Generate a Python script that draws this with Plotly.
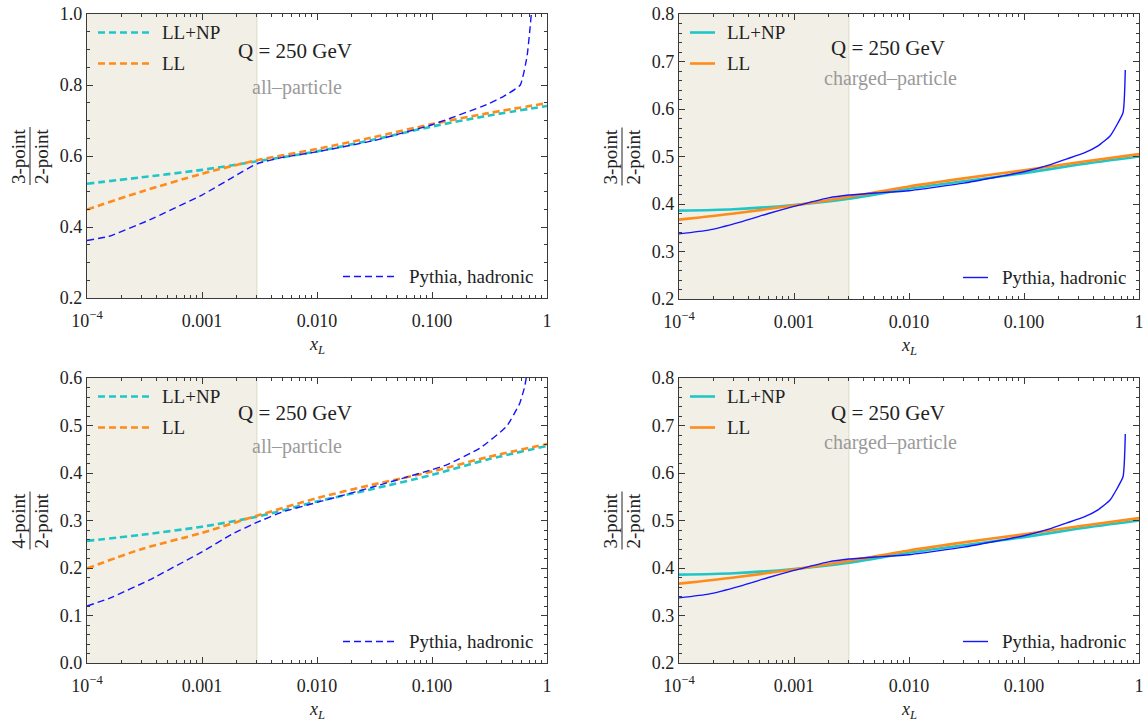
import math
import plotly.graph_objects as go

# ---------------------------------------------------------------- data
# theory curves are sampled on a common x_L grid
x_theory = [1e-4, 3e-4, 1e-3, 3e-3, 1e-2, 3e-2, 1e-1, 3e-1, 1.0]

# 3-point / 2-point, all particles
all3_llnp = [0.522, 0.540, 0.561, 0.585, 0.613, 0.645, 0.683, 0.713, 0.741]
all3_ll = [0.449, 0.500, 0.550, 0.588, 0.620, 0.652, 0.690, 0.720, 0.749]
all3_py_x = [1e-4, 1.56e-4, 3.5e-4, 1e-3, 1.85e-3, 3e-3, 5e-3, 1e-2, 3e-2, 1e-1,
             0.30, 0.42, 0.586, 0.67, 0.71, 0.73, 0.735]
all3_py = [0.362, 0.374, 0.420, 0.490, 0.540, 0.578, 0.596, 0.612, 0.642, 0.688,
           0.745, 0.768, 0.800, 0.880, 0.956, 1.000, 1.05]

# 3-point / 2-point, charged particles
chg3_llnp = [0.386, 0.389, 0.398, 0.411, 0.432, 0.448, 0.465, 0.483, 0.500]
chg3_ll = [0.367, 0.380, 0.397, 0.415, 0.437, 0.454, 0.471, 0.488, 0.505]
chg3_py_x = [1e-4, 1.8e-4, 3.4e-4, 6e-4, 1e-3, 2e-3, 3e-3, 5e-3, 1e-2, 3e-2,
             1e-1, 0.17, 0.236, 0.33, 0.444, 0.56, 0.726, 0.76]
chg3_py = [0.337, 0.345, 0.362, 0.380, 0.395, 0.413, 0.419, 0.423, 0.428, 0.444,
           0.468, 0.483, 0.495, 0.507, 0.523, 0.543, 0.592, 0.682]

# 4-point / 2-point, all particles
all4_llnp = [0.257, 0.270, 0.287, 0.308, 0.340, 0.366, 0.396, 0.428, 0.457]
all4_ll = [0.199, 0.240, 0.274, 0.310, 0.347, 0.375, 0.403, 0.433, 0.461]
all4_py_x = [1e-4, 1.56e-4, 3.5e-4, 1e-3, 1.85e-3, 3e-3, 5e-3, 1e-2, 3e-2, 1e-1,
             0.134, 0.26, 0.445, 0.58, 0.64, 0.68]
all4_py = [0.120, 0.136, 0.175, 0.234, 0.272, 0.296, 0.318, 0.338, 0.370, 0.407,
           0.417, 0.452, 0.498, 0.547, 0.582, 0.620]

x_tickvals = [1e-4, 1e-3, 1e-2, 1e-1, 1.0]
x_ticktext = ["10<sup>\u22124</sup>", "0.001", "0.010", "0.100", "1"]
x_minor = [m * 10.0 ** e for e in range(-4, 0) for m in range(2, 10)]
np_cut = 3e-3  # upper edge of the non-perturbative band

# ---------------------------------------------------------------- style
W, H = 1143, 723
FONT = "'Liberation Serif', 'DejaVu Serif', serif"
TXT = "#222222"
CYAN = "#1fc6c8"
ORANGE = "#ff8c1a"
BLUE = "#1414ff"
AXIS = "#3a3a3a"
SHADE = "#f2efe6"


def px_x(p):
    return p / W


def px_y(p):
    return 1 - p / H


# panel frames in pixels: (left, right, top, bottom)
panels = [
    dict(box=(87, 547, 14, 298), yr=(0.2, 1.0), ymaj=0.2, ymin=0.05,
         ll=all3_ll, llnp=all3_llnp, px=all3_py_x, py=all3_py, dashed=True,
         num="3-point", sub="all\u2013particle", sub_y=87, q_y=51),
    dict(box=(679, 1139, 14, 299), yr=(0.2, 0.8), ymaj=0.1, ymin=0.02,
         ll=chg3_ll, llnp=chg3_llnp, px=chg3_py_x, py=chg3_py, dashed=False,
         num="3-point", sub="charged\u2013particle", sub_y=78, q_y=48),
    dict(box=(87, 547, 378, 663), yr=(0.0, 0.6), ymaj=0.1, ymin=0.02,
         ll=all4_ll, llnp=all4_llnp, px=all4_py_x, py=all4_py, dashed=True,
         num="4-point", sub="all\u2013particle", sub_y=446, q_y=413),
    dict(box=(679, 1139, 378, 663), yr=(0.2, 0.8), ymaj=0.1, ymin=0.02,
         ll=chg3_ll, llnp=chg3_llnp, px=chg3_py_x, py=chg3_py, dashed=False,
         num="3-point", sub="charged\u2013particle", sub_y=442, q_y=413),
]

fig = go.Figure()
layout = dict(
    template="none",
    width=W, height=H,
    margin=dict(l=0, r=0, t=0, b=0, pad=0),
    paper_bgcolor="white", plot_bgcolor="white",
    showlegend=False,
    font=dict(family=FONT, size=18, color=TXT),
)
shapes, annotations = [], []

for i, p in enumerate(panels):
    k = "" if i == 0 else str(i + 1)
    xa, ya = "x" + k, "y" + k
    l, r, t, b = p["box"]
    layout["xaxis" + k] = dict(
        domain=[px_x(l), px_x(r)], anchor=ya, type="log", range=[-4, 0],
        automargin=False, ticklabeloverflow="allow",
        tickmode="array", tickvals=x_tickvals, ticktext=x_ticktext,
        ticks="inside", ticklen=6, tickwidth=1, tickcolor=AXIS,
        minor=dict(tickmode="array", tickvals=x_minor, ticks="inside",
                   ticklen=3, tickwidth=1, tickcolor=AXIS, showgrid=False),
        showline=True, linecolor=AXIS, linewidth=1.3, mirror="allticks",
        showgrid=False, zeroline=False, ticklabelstandoff=6,
        tickfont=dict(family=FONT, size=18, color=TXT),
    )
    layout["yaxis" + k] = dict(
        domain=[px_y(b), px_y(t)], anchor=xa, range=list(p["yr"]),
        automargin=False, ticklabeloverflow="allow",
        tickmode="linear", tick0=0, dtick=p["ymaj"], tickformat=".1f",
        ticks="inside", ticklen=6, tickwidth=1, tickcolor=AXIS,
        minor=dict(tickmode="linear", tick0=0, dtick=p["ymin"], ticks="inside",
                   ticklen=3, tickwidth=1, tickcolor=AXIS, showgrid=False),
        showline=True, linecolor=AXIS, linewidth=1.3, mirror="allticks",
        showgrid=False, zeroline=False,
        tickfont=dict(family=FONT, size=18, color=TXT),
    )

    # non-perturbative region shading
    cut = (math.log10(np_cut) + 4) / 4
    shapes.append(dict(type="rect", xref=xa + " domain", yref=ya + " domain",
                       x0=0, x1=cut, y0=0, y1=1, fillcolor=SHADE,
                       line=dict(width=0), layer="below"))
    shapes.append(dict(type="line", xref=xa + " domain", yref=ya + " domain",
                       x0=cut, x1=cut, y0=0, y1=1,
                       line=dict(color="#ddd9c6", width=1), layer="below"))

    th_dash = "7px,4px" if p["dashed"] else "solid"
    py_dash = "7px,4px" if p["dashed"] else "solid"
    fig.add_trace(go.Scatter(x=x_theory, y=p["llnp"], mode="lines",
                             line=dict(color=CYAN, width=2.6, dash=th_dash,
                                       shape="spline", smoothing=0.8),
                             name="LL+NP", xaxis=xa, yaxis=ya))
    fig.add_trace(go.Scatter(x=x_theory, y=p["ll"], mode="lines",
                             line=dict(color=ORANGE, width=2.6, dash=th_dash,
                                       shape="spline", smoothing=0.8),
                             name="LL", xaxis=xa, yaxis=ya))
    fig.add_trace(go.Scatter(x=p["px"], y=p["py"], mode="lines",
                             line=dict(color=BLUE, width=1.4, dash=py_dash,
                                       shape="spline", smoothing=0.4),
                             name="Pythia, hadronic", xaxis=xa, yaxis=ya))

    # in-panel legends
    samp = 52 if p["dashed"] else 25
    lx0 = l + 11
    for name, col, dy in (("LL+NP", CYAN, 18.5), ("LL", ORANGE, 49.5)):
        yy = t + dy
        shapes.append(dict(type="line", xref="paper", yref="paper",
                           x0=px_x(lx0), x1=px_x(lx0 + samp),
                           y0=px_y(yy), y1=px_y(yy),
                           line=dict(color=col, width=2.6, dash=th_dash)))
        annotations.append(dict(text=name, xref="paper", yref="paper",
                                x=px_x(lx0 + samp + 10), y=px_y(yy),
                                xanchor="left", yanchor="middle", showarrow=False,
                                font=dict(family=FONT, size=19, color=TXT)))
    py_y = b - 21.5
    ps0 = r - 204 if p["dashed"] else r - 176
    shapes.append(dict(type="line", xref="paper", yref="paper",
                       x0=px_x(ps0), x1=px_x(ps0 + samp),
                       y0=px_y(py_y), y1=px_y(py_y),
                       line=dict(color=BLUE, width=1.4, dash=py_dash)))
    annotations.append(dict(text="Pythia, hadronic", xref="paper", yref="paper",
                            x=px_x(ps0 + samp + 12), y=px_y(py_y),
                            xanchor="left", yanchor="middle", showarrow=False,
                            font=dict(family=FONT, size=19, color=TXT)))

    # energy and particle-selection labels
    cx = l + 208 if p["dashed"] else l + 209
    annotations.append(dict(text="Q = 250 GeV", xref="paper", yref="paper",
                            x=px_x(cx), y=px_y(p["q_y"]), xanchor="center",
                            yanchor="middle", showarrow=False,
                            font=dict(family=FONT, size=21, color=TXT)))
    annotations.append(dict(text=p["sub"], xref="paper", yref="paper",
                            x=px_x(cx + 2), y=px_y(p["sub_y"]), xanchor="center",
                            yanchor="middle", showarrow=False,
                            font=dict(family=FONT, size=20, color="#9a9a9a")))

    # x-axis title
    annotations.append(dict(text="<i>x</i><sub><i>L</i></sub>", xref="paper",
                            yref="paper", x=px_x((l + r) / 2), y=px_y(b + 47),
                            xanchor="center", yanchor="middle", showarrow=False,
                            font=dict(family=FONT, size=18, color=TXT)))

    # y-axis title as a rotated fraction
    yc = (t + b) / 2
    bar_x = l - 57
    annotations.append(dict(text=p["num"], xref="paper", yref="paper",
                            x=px_x(bar_x - 12), y=px_y(yc), textangle=-90,
                            xanchor="center", yanchor="middle", showarrow=False,
                            font=dict(family=FONT, size=19, color=TXT)))
    annotations.append(dict(text="2-point", xref="paper", yref="paper",
                            x=px_x(bar_x + 11), y=px_y(yc), textangle=-90,
                            xanchor="center", yanchor="middle", showarrow=False,
                            font=dict(family=FONT, size=19, color=TXT)))
    shapes.append(dict(type="line", xref="paper", yref="paper",
                       x0=px_x(bar_x), x1=px_x(bar_x),
                       y0=px_y(yc - 29), y1=px_y(yc + 29),
                       line=dict(color=TXT, width=1)))

layout["shapes"] = shapes
layout["annotations"] = annotations
fig.update_layout(**layout)
fig.write_html("out.html")
